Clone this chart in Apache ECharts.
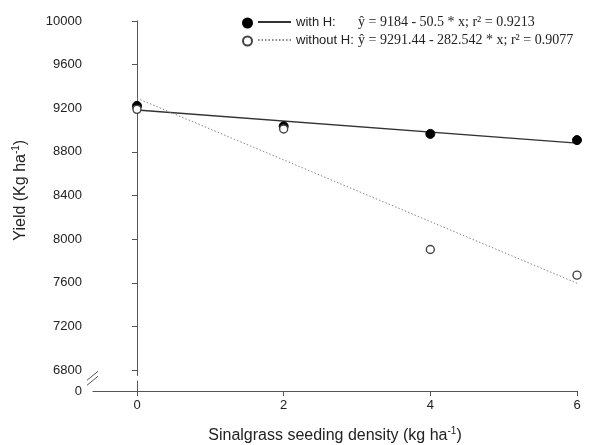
<!DOCTYPE html>
<html>
<head>
<meta charset="utf-8">
<script src="https://cdn.jsdelivr.net/npm/echarts@6/dist/echarts.min.js"></script>
<style>html,body{margin:0;padding:0;background:#fff}#c{width:612px;height:445px}</style>
</head>
<body>
<div id="c"></div>
<script>
// ---- data ----
const density = [0, 2, 4, 6];
const yieldWithH = [9222, 9035, 8965, 8908];
const yieldWithoutH = [9190, 9010, 7905, 7670];
// regression lines (endpoints from the printed equations)
const fitX = [0, 6];
const fitWithH = [9184, 8881];
const fitWithoutH = [9291.44, 7596.19];
const yTicks = [6800, 7200, 7600, 8000, 8400, 8800, 9200, 9600, 10000];
const xTicks = [0, 2, 4, 6];
const eqWithH = 'ŷ = 9184 - 50.5 * x; r² = 0.9213';
const eqWithoutH = 'ŷ = 9291.44 - 282.542 * x; r² = 0.9077';

const pairs = (xs, ys) => xs.map((x, i) => [x, ys[i]]);
const sans = 'Liberation Sans';
const axisColor = '#555';
const nameRich = {
  n: {fontFamily: sans, fontSize: 16, color: '#222', lineHeight: 20},
  s: {fontFamily: sans, fontSize: 10, color: '#222', verticalAlign: 'top', lineHeight: 20}
};

const chart = echarts.init(document.getElementById('c'), null, {renderer: 'canvas'});
const option = {
  animation: false,
  backgroundColor: '#fff',
  grid: [
    {left: 93, right: 35, top: 21, height: 354.5},
    {left: 93, right: 35, top: 381, height: 12}
  ],
  xAxis: [
    {gridIndex: 0, type: 'value', min: -0.6, max: 6, show: false},
    {gridIndex: 1, type: 'value', min: -0.6, max: 6,
      axisLine: {show: true, lineStyle: {color: axisColor, width: 1}},
      axisTick: {show: true, length: 5, customValues: xTicks, lineStyle: {color: axisColor}},
      axisLabel: {customValues: xTicks, margin: 8, color: '#222', fontFamily: sans, fontSize: 13},
      splitLine: {show: false},
      name: '{n|Sinalgrass seeding density (kg ha}{s|-1}{n|)}',
      nameLocation: 'middle', nameGap: 35,
      nameTextStyle: {rich: nameRich}
    }
  ],
  yAxis: [
    {gridIndex: 0, type: 'value', min: 6750, max: 10000,
      axisLine: {show: true, lineStyle: {color: axisColor, width: 1}},
      axisTick: {show: true, length: 5, customValues: yTicks, lineStyle: {color: axisColor}},
      axisLabel: {customValues: yTicks, margin: 11, color: '#222', fontFamily: sans, fontSize: 13,
        formatter: v => String(v)},
      splitLine: {show: false},
      name: '{n|Yield (Kg ha}{s|-1}{n|)}',
      nameLocation: 'middle', nameGap: 62, nameRotate: 90,
      nameTextStyle: {rich: nameRich, padding: [0, 0, 0, 16]}
    },
    {gridIndex: 1, type: 'value', min: 0, max: 1,
      axisLine: {show: true, lineStyle: {color: axisColor, width: 1}},
      axisTick: {show: true, length: 5, customValues: [0], lineStyle: {color: axisColor}},
      axisLabel: {customValues: [0], margin: 11, color: '#222', fontFamily: sans, fontSize: 13},
      splitLine: {show: false}
    }
  ],
  legend: [
    {orient: 'vertical', left: 242, top: 17.5, padding: 0, itemWidth: 9, itemHeight: 9, itemGap: 7,
      data: ['with H', 'without H'], formatter: () => '', selectedMode: false,
      textStyle: {fontSize: 1, lineHeight: 1}},
    {orient: 'vertical', left: 257, top: 15, padding: 0, itemWidth: 33, itemHeight: 16, itemGap: 4,
      data: ['fit with H', 'fit without H'], selectedMode: false,
      itemStyle: {color: 'transparent', borderWidth: 0, opacity: 0},
      formatter: name => name === 'fit with H'
        ? '{a|with H:}{e|' + eqWithH + '}'
        : '{a|without H:}{e|' + eqWithoutH + '}',
      textStyle: {rich: {
        a: {fontFamily: sans, fontSize: 13, color: '#222', width: 62},
        e: {fontFamily: 'Liberation Serif', fontSize: 14, color: '#222'}
      }}
    }
  ],
  series: [
    {name: 'fit with H', type: 'line', xAxisIndex: 0, yAxisIndex: 0,
      data: pairs(fitX, fitWithH), symbol: 'none', clip: false, z: 2,
      lineStyle: {color: '#333', width: 1.3, type: 'solid'}, itemStyle: {color: '#333'}},
    {name: 'fit without H', type: 'line', xAxisIndex: 0, yAxisIndex: 0,
      data: pairs(fitX, fitWithoutH), symbol: 'none', clip: false, z: 2,
      lineStyle: {color: '#888', width: 1, type: [1.5, 2]}, itemStyle: {color: '#888'}},
    {name: 'with H', type: 'scatter', xAxisIndex: 0, yAxisIndex: 0,
      data: pairs(density, yieldWithH), symbol: 'circle', symbolSize: 9, clip: false, z: 3,
      itemStyle: {color: '#000', borderColor: '#000', borderWidth: 1, opacity: 1}},
    {name: 'without H', type: 'scatter', xAxisIndex: 0, yAxisIndex: 0,
      data: pairs(density, yieldWithoutH), symbol: 'circle', symbolSize: 8, clip: false, z: 4,
      itemStyle: {color: '#fff', borderColor: '#444', borderWidth: 1.4, opacity: 1}}
  ]
};
chart.setOption(option);

// axis-break marks on the y axis
const pTop = chart.convertToPixel({gridIndex: 0}, [-0.6, 6750]);
const pBot = chart.convertToPixel({gridIndex: 1}, [-0.6, 1]);
const cx = pTop[0], cy = (pTop[1] + pBot[1]) / 2;
chart.setOption({
  graphic: [
    {type: 'line', shape: {x1: cx - 6, y1: cy + 2, x2: cx + 5, y2: cy - 7},
      style: {stroke: axisColor, lineWidth: 1}},
    {type: 'line', shape: {x1: cx - 6, y1: cy + 7, x2: cx + 5, y2: cy - 2},
      style: {stroke: axisColor, lineWidth: 1}}
  ]
});
</script>
</body>
</html>
